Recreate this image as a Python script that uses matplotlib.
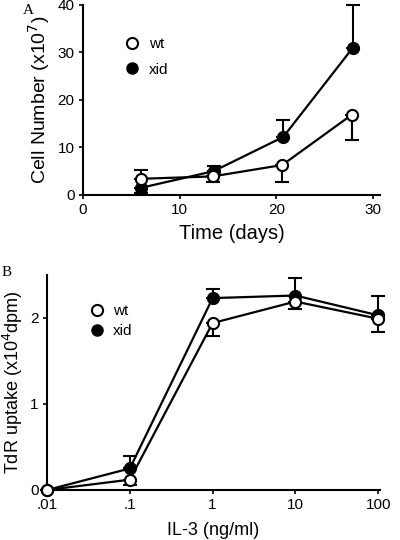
import matplotlib
matplotlib.use('Agg')
import matplotlib.pyplot as plt
from matplotlib.lines import Line2D

plt.rcParams['font.family'] = ['Liberation Sans', 'DejaVu Sans']

# panel A: cell number over time
days_wt = [6.0, 13.4, 20.6, 27.8]
cells_wt = [3.4, 3.9, 6.3, 16.9]
err_wt_up = [1.8, 0, 0, 0]
err_wt_down = [0, 1.2, 3.6, 5.3]

days_xid = [6.0, 13.5, 20.7, 27.9]
cells_xid = [1.5, 5.0, 12.2, 31.0]
err_xid_up = [0, 1.1, 3.6, 8.9]
err_xid_down = [1.0, 0, 0, 0]

# panel B: TdR uptake vs IL-3 dose
il3 = [0.01, 0.1, 1, 10, 100]
tdr_wt = [0.0, 0.12, 1.94, 2.19, 1.99]
tdr_wt_down = [0, 0.06, 0.15, 0.09, 0.15]
tdr_xid = [0.0, 0.25, 2.23, 2.26, 2.03]
tdr_xid_up = [0, 0.15, 0.10, 0.20, 0.22]

fig = plt.figure(figsize=(4, 5.4), dpi=100)

style = dict(color='black', lw=1.6, ms=8, mew=1.5, capsize=5, elinewidth=1.5,
             capthick=1.5, clip_on=False)

#---- panel A
axA = fig.add_axes([0.2075, 0.639, 0.7425, 0.352])
axA.errorbar(days_wt, cells_wt, yerr=[err_wt_down, err_wt_up], marker='o',
             mfc='white', mec='black', zorder=4, **style)
axA.errorbar(days_xid, cells_xid, yerr=[err_xid_down, err_xid_up], marker='o',
             mfc='black', mec='black', zorder=3, **style)
axA.set_xlim(0, 30.7)
axA.set_ylim(0, 40)
axA.set_xticks([0, 10, 20, 30])
axA.set_yticks([0, 10, 20, 30, 40])
axA.set_xlabel('Time (days)', fontsize=14.5, labelpad=5)
axA.set_ylabel('Cell Number (x10$^7$)', fontsize=14, labelpad=4)

#---- panel B
axB = fig.add_axes([0.1175, 0.0926, 0.8325, 0.3984])
axB.errorbar(il3, tdr_xid, yerr=[[0] * 5, tdr_xid_up], marker='o',
             mfc='black', mec='black', zorder=3, **style)
axB.errorbar(il3, tdr_wt, yerr=[tdr_wt_down, [0] * 5], marker='o',
             mfc='white', mec='black', zorder=4, **style)
axB.set_xscale('log')
axB.set_xlim(0.01, 105)
axB.set_ylim(0, 2.5)
axB.set_xticks(il3)
axB.set_xticklabels(['.01', '.1', '1', '10', '100'])
axB.minorticks_off()
axB.set_yticks([0, 1, 2])
axB.set_xlabel('IL-3 (ng/ml)', fontsize=13, labelpad=7)
axB.set_ylabel('TdR uptake (x10$^4$dpm)', fontsize=13, labelpad=4)

for ax in (axA, axB):
    for s in ('top', 'right'):
        ax.spines[s].set_visible(False)
    for s in ('left', 'bottom'):
        ax.spines[s].set_linewidth(1.5)
    ax.tick_params(direction='out', length=3, width=1.2, labelsize=11, pad=3)

handles = [Line2D([], [], ls='none', marker='o', mfc='white', mec='black', mew=1.5, ms=8, color='black'),
           Line2D([], [], ls='none', marker='o', mfc='black', mec='black', ms=8, color='black')]
axA.legend(handles, ['wt', 'xid'], loc='upper left', bbox_to_anchor=(0.12, 0.87),
           frameon=False, handlelength=0.8, handletextpad=0.7, fontsize=11,
           labelspacing=0.75, borderpad=0)
axB.legend(handles, ['wt', 'xid'], loc='upper left', bbox_to_anchor=(0.11, 0.9),
           frameon=False, handlelength=0.8, handletextpad=0.6, fontsize=11,
           labelspacing=0.4, borderpad=0)

fig.text(28 / 400, 1 - 10 / 540, 'A', family='Liberation Serif', fontsize=11,
         ha='center', va='center')
fig.text(7 / 400, 1 - 272 / 540, 'B', family='Liberation Serif', fontsize=11,
         ha='center', va='center')

fig.savefig('out.png', dpi=100)
